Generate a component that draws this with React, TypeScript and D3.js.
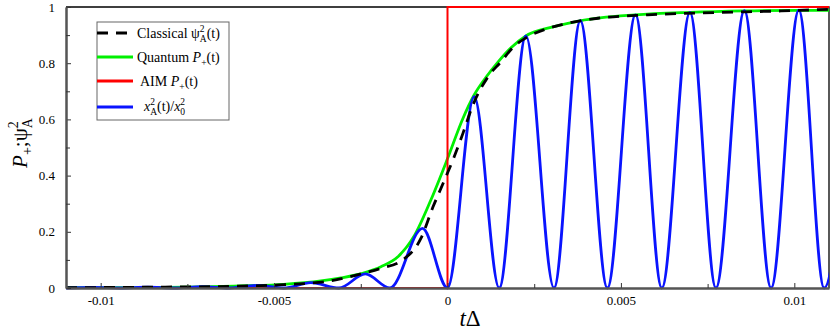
import { useEffect, useRef } from 'react';
import * as d3 from 'd3';

// values
const classicalT = [-0.011, -0.0085, -0.00616, -0.00472, -0.00345, -0.00238, -0.00192, -0.00134, -0.00076, -0.00042, -0.0001, 0.00019, 0.00045, 0.00071, 0.00117, 0.00154, 0.00191, 0.00232, 0.0029, 0.00347, 0.00434, 0.00577, 0.00768, 0.00962, 0.011];
const classicalV = [0.001, 0.003, 0.006, 0.012, 0.024, 0.054, 0.07, 0.096, 0.178, 0.288, 0.38, 0.466, 0.552, 0.644, 0.752, 0.805, 0.859, 0.894, 0.924, 0.942, 0.96, 0.972, 0.98, 0.986, 0.992];

const quantumT = [-0.011, -0.00855, -0.00711, -0.00616, -0.00472, -0.00365, -0.00307, -0.00238, -0.00192, -0.00143, -0.00097, -0.00048, 0, 0.00045, 0.00076, 0.00111, 0.00146, 0.00183, 0.00226, 0.00307, 0.00382, 0.00541, 0.00699, 0.00855, 0.01014, 0.011];
const quantumV = [0.001, 0.002, 0.004, 0.007, 0.013, 0.025, 0.036, 0.055, 0.076, 0.111, 0.183, 0.313, 0.46, 0.605, 0.685, 0.75, 0.805, 0.855, 0.897, 0.93, 0.951, 0.972, 0.981, 0.986, 0.988, 0.988];

const aimT = [-0.011, 0, 0, 0.011];
const aimV = [0, 0, 1, 1];

// zeros and peaks of x_A^2/x_0^2
const ratioT = [-0.011, -0.01023, -0.00945, -0.00864, -0.00786, -0.00708, -0.0063, -0.00549, -0.00472, -0.00394, -0.00313, -0.00237, -0.00166, -0.00072, 0, 0.00077, 0.00149, 0.00226, 0.00307, 0.00383, 0.00461, 0.00542, 0.00618, 0.00699, 0.00774, 0.00856, 0.00933, 0.01013, 0.01086, 0.0117];
const ratioV = [0, 0.002, 0, 0.003, 0, 0.005, 0, 0.009, 0, 0.019, 0, 0.05, 0, 0.212, 0, 0.681, 0, 0.897, 0, 0.951, 0, 0.972, 0, 0.981, 0, 0.987, 0, 0.989, 0, 0.99];

const xMajor = [-0.01, -0.005, 0, 0.005, 0.01];
const xMinor = [-0.0075, -0.0025, 0.0025, 0.0075];
const yMajor = [0, 0.2, 0.4, 0.6, 0.8, 1];
const yMinor = [0.1, 0.3, 0.5, 0.7, 0.9];
const xLabels = ['-0.01', '-0.005', '0', '0.005', '0.01'];
const yLabels = ['0', '0.2', '0.4', '0.6', '0.8', '1'];

const width = 831,
  height = 335;
const left = 66,
  right = 829,
  top = 7,
  bottom = 288;

const GREEN = '#00f000';
const RED = '#ff0000';
const BLUE = '#0a14ff';
const FONT = 'Liberation Serif, serif';

function App() {
  const svgRef = useRef<SVGSVGElement>(null);

  useEffect(() => {
    const svg = d3.select(svgRef.current);
    svg.selectAll('*').remove();

    const x = d3.scaleLinear().domain([-0.011, 0.011]).range([left, right]);
    const y = d3.scaleLinear().domain([0, 1]).range([bottom, top]);

    svg
      .append('defs')
      .append('clipPath')
      .attr('id', 'plot-clip')
      .append('rect')
      .attr('x', left)
      .attr('y', top - 3)
      .attr('width', right - left)
      .attr('height', bottom - top + 6);

    // frame (top and right)
    svg
      .append('path')
      .attr('d', `M${left},${top}H${right}V${bottom}`)
      .attr('fill', 'none')
      .attr('stroke', '#000')
      .attr('stroke-width', 1.3);

    const lineOf = (ts: number[], vs: number[], curve: d3.CurveFactory) =>
      d3
        .line<number>()
        .x((d, i) => x(ts[i]))
        .y((d, i) => y(vs[i]))
        .curve(curve)(vs);

    const plot = svg.append('g').attr('clip-path', 'url(#plot-clip)');

    plot
      .append('path')
      .attr('d', lineOf(quantumT, quantumV, d3.curveMonotoneX))
      .attr('fill', 'none')
      .attr('stroke', GREEN)
      .attr('stroke-width', 2.8);

    plot
      .append('path')
      .attr('d', lineOf(aimT, aimV, d3.curveLinear))
      .attr('fill', 'none')
      .attr('stroke', RED)
      .attr('stroke-width', 2);

    plot
      .append('path')
      .attr('d', lineOf(ratioT, ratioV, d3.curveMonotoneX))
      .attr('fill', 'none')
      .attr('stroke', BLUE)
      .attr('stroke-width', 2.8);

    plot
      .append('path')
      .attr('d', lineOf(classicalT, classicalV, d3.curveMonotoneX))
      .attr('fill', 'none')
      .attr('stroke', '#000')
      .attr('stroke-width', 2.8)
      .attr('stroke-dasharray', '11,8');

    // axes
    const xAxis = svg
      .append('g')
      .attr('transform', `translate(0,${bottom})`)
      .call(
        d3
          .axisBottom(x)
          .tickValues(xMajor)
          .tickSizeInner(-5)
          .tickSizeOuter(0)
          .tickPadding(8)
          .tickFormat((d, i) => xLabels[i]),
      );
    svg
      .append('g')
      .attr('transform', `translate(0,${bottom})`)
      .call(d3.axisBottom(x).tickValues(xMinor).tickSizeInner(-4).tickSizeOuter(0).tickFormat(() => ''));

    const yAxis = svg
      .append('g')
      .attr('transform', `translate(${left},0)`)
      .call(
        d3
          .axisLeft(y)
          .tickValues(yMajor)
          .tickSizeInner(-5)
          .tickSizeOuter(0)
          .tickPadding(11)
          .tickFormat((d, i) => yLabels[i]),
      );
    svg
      .append('g')
      .attr('transform', `translate(${left},0)`)
      .call(d3.axisLeft(y).tickValues(yMinor).tickSizeInner(-4).tickSizeOuter(0).tickFormat(() => ''));

    svg.selectAll('.domain').attr('stroke', '#555').attr('stroke-width', 2);
    svg.selectAll('.tick line').attr('stroke', '#333').attr('stroke-width', 1);
    [xAxis, yAxis].forEach((a) => {
      a.attr('font-family', FONT).attr('font-size', 13);
      a.selectAll('text').style('font-family', FONT).style('font-size', '13px').attr('fill', '#000');
    });

    // legend
    const lg = svg.append('g').style('font-family', FONT);
    lg.append('rect')
      .attr('x', 97)
      .attr('y', 22)
      .attr('width', 132)
      .attr('height', 98)
      .attr('fill', '#fff')
      .attr('stroke', '#666')
      .attr('stroke-width', 1);

    const rows = [
      { y: 33, color: '#000', dash: '11,8', len: 31 },
      { y: 57, color: GREEN, dash: null, len: 36 },
      { y: 81, color: RED, dash: null, len: 36 },
      { y: 107, color: BLUE, dash: null, len: 36 },
    ];
    rows.forEach((r) => {
      lg.append('line')
        .attr('x1', 97)
        .attr('x2', 97 + r.len)
        .attr('y1', r.y)
        .attr('y2', r.y)
        .attr('stroke', r.color)
        .attr('stroke-width', 2.8)
        .attr('stroke-dasharray', r.dash);
    });

    const txt = (xx: number, yy: number) =>
      lg.append('text').attr('x', xx).attr('y', yy).style('font-family', FONT).attr('font-size', 14).attr('fill', '#000');

    const t1 = txt(137, 38);
    t1.append('tspan').text('Classical ψ');
    t1.append('tspan').attr('font-size', 9.5).attr('dy', -6).text('2');
    t1.append('tspan').attr('font-size', 9.5).attr('dx', -4.8).attr('dy', 10).text('A');
    t1.append('tspan').attr('dy', -4).text('(t)');

    const t2 = txt(137, 62);
    t2.append('tspan').text('Quantum ');
    t2.append('tspan').attr('font-style', 'italic').text('P');
    t2.append('tspan').attr('font-size', 9.5).attr('dy', 4).text('+');
    t2.append('tspan').attr('dy', -4).text('(t)');

    const t3 = txt(140, 86);
    t3.append('tspan').text('AIM ');
    t3.append('tspan').attr('font-style', 'italic').text('P');
    t3.append('tspan').attr('font-size', 9.5).attr('dy', 4).text('+');
    t3.append('tspan').attr('dy', -4).text('(t)');

    const t4 = txt(144, 111);
    t4.append('tspan').attr('font-style', 'italic').text('x');
    t4.append('tspan').attr('font-size', 9.5).attr('dy', -6).text('2');
    t4.append('tspan').attr('font-size', 9.5).attr('dx', -4.8).attr('dy', 10).text('A');
    t4.append('tspan').attr('dy', -4).text('(t)/');
    t4.append('tspan').attr('font-style', 'italic').text('x');
    t4.append('tspan').attr('font-size', 9.5).attr('dy', -6).text('2');
    t4.append('tspan').attr('font-size', 9.5).attr('dx', -4.8).attr('dy', 10).text('0');

    // axis titles
    const yt = svg
      .append('text')
      .attr('transform', `translate(27,143) rotate(-90)`)
      .attr('text-anchor', 'middle')
      .style('font-family', FONT)
      .attr('font-size', 21)
      .attr('fill', '#000');
    yt.append('tspan').attr('font-style', 'italic').text('P');
    yt.append('tspan').attr('font-size', 14).attr('dy', 5).text('+');
    yt.append('tspan').attr('dy', -5).text(';ψ');
    yt.append('tspan').attr('font-size', 14).attr('dy', -9).text('2');
    yt.append('tspan').attr('font-size', 14).attr('dx', -7).attr('dy', 14).text('A');

    const xt = svg
      .append('text')
      .attr('x', 470)
      .attr('y', 326)
      .attr('text-anchor', 'middle')
      .style('font-family', FONT)
      .attr('font-size', 23)
      .attr('fill', '#000');
    xt.append('tspan').attr('font-style', 'italic').text('t');
    xt.append('tspan').text('Δ');
  }, []);

  return (
    <svg
      ref={svgRef}
      width={width}
      height={height}
      viewBox={`0 0 ${width} ${height}`}
      style={{ position: 'absolute', left: 0, top: 0, background: '#fff' }}
    />
  );
}

export default App;
